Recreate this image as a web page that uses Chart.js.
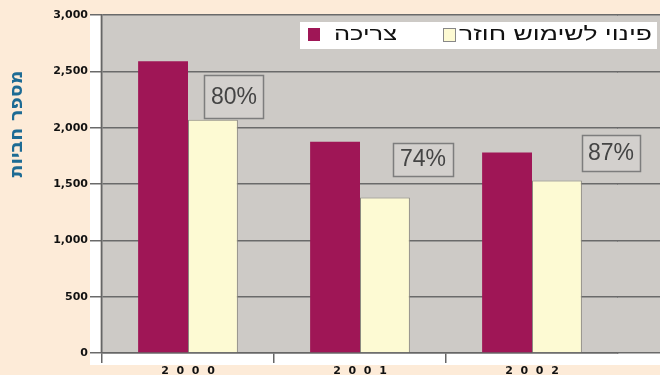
<!DOCTYPE html>
<html>
<head>
<meta charset="utf-8">
<script src="https://cdn.jsdelivr.net/npm/chart.js@4/dist/chart.umd.min.js"></script>
<style>
  html, body { margin: 0; padding: 0; background: #fdebd8; }
  #wrap { width: 660px; height: 375px; }
</style>
</head>
<body>
<div id="wrap"><canvas id="myChart" width="660" height="375"></canvas></div>
<script>
var years = ["2000", "2001", "2002"];
var consumption = [2590, 1875, 1780];
var recycled = [2070, 1380, 1530];
var percents = ["80%", "74%", "87%"];
var seriesNames = ["צריכה", "פינוי לשימוש חוזר"];
var axisTitle = "מספר חביות";

var COLORS = {
  page: '#fdebd8',
  plot: '#cdcac6',
  grid: '#6a6a6a',
  maroon: '#9f1656',
  cream: '#fdfad3',
  title: '#1d6b94'
};

// where each percent box sits relative to the top of its cream bar
var boxOffsets = [
  { dx: 21, dy: -2, w: 59, h: 43 },
  { dx: 38, dy: -22, w: 60, h: 33 },
  { dx: 54, dy: -10, w: 58, h: 36 }
];

Chart.defaults.font.family = "'DejaVu Sans', sans-serif";

// draw rtl text stretched to a given width, right edge at x
function fitText(ctx, text, xRight, y, width) {
  var w = ctx.measureText(text).width;
  ctx.save();
  ctx.translate(xRight, y);
  ctx.scale(width / w, 1);
  ctx.fillText(text, 0, 0);
  ctx.restore();
}

// same pixel snapping chart.js uses for grid lines
function snap(px, lw) {
  return Math.round(px - lw / 2) + lw / 2;
}

var decor = {
  id: 'decor',
  beforeDraw: function (chart) {
    var ctx = chart.ctx, ca = chart.chartArea;
    ctx.save();
    ctx.fillStyle = COLORS.page;
    ctx.fillRect(0, 0, chart.width, chart.height);
    ctx.fillStyle = '#ffffff';
    ctx.fillRect(ca.left - 12, ca.top - 1, chart.width, ca.bottom - ca.top + 13);
    ctx.fillStyle = COLORS.plot;
    ctx.fillRect(ca.left - 2, ca.top - 1, chart.width, ca.bottom - ca.top + 1);
    ctx.restore();
  },
  beforeDatasetsDraw: function (chart) {
    var ctx = chart.ctx, ca = chart.chartArea, y = chart.scales.y;
    ctx.save();
    ctx.strokeStyle = COLORS.grid;
    ctx.lineWidth = 1.5;
    y.ticks.forEach(function (t) {
      var py = snap(y.getPixelForValue(t.value), 1.5);
      ctx.beginPath();
      ctx.moveTo(ca.right - 1, py);
      ctx.lineTo(chart.width, py);
      ctx.stroke();
    });
    ctx.restore();
  },
  afterDatasetsDraw: function (chart) {
    var ctx = chart.ctx;
    var bars = chart.getDatasetMeta(1).data;
    ctx.save();
    bars.forEach(function (bar, i) {
      var o = boxOffsets[i];
      var cx = bar.x + o.dx;
      var bottom = bar.y + o.dy;
      var x0 = Math.round(cx - o.w / 2) + 0.5, y0 = Math.round(bottom - o.h) + 0.5;
      ctx.fillStyle = '#d3d0cd';
      ctx.fillRect(x0, y0, o.w, o.h);
      ctx.strokeStyle = '#7d7d7d';
      ctx.lineWidth = 1.5;
      ctx.strokeRect(x0, y0, o.w, o.h);
      ctx.fillStyle = '#444';
      ctx.font = "23px 'Liberation Sans', Arial, sans-serif";
      ctx.textAlign = 'center';
      ctx.textBaseline = 'middle';
      ctx.fillText(percents[i], cx, bottom - o.h / 2 + 1);
    });
    ctx.restore();
  },
  afterDraw: function (chart) {
    var ctx = chart.ctx;
    ctx.save();
    // legend box
    ctx.fillStyle = '#ffffff';
    ctx.fillRect(300, 22, 357, 27);
    ctx.font = "19px 'Liberation Sans', Arial, sans-serif";
    ctx.textBaseline = 'middle';
    ctx.textAlign = 'right';
    ctx.direction = 'rtl';
    ctx.fillStyle = '#111';
    fitText(ctx, seriesNames[1], 652, 35, 193);
    fitText(ctx, seriesNames[0], 397, 35, 63);
    ctx.fillStyle = COLORS.cream;
    ctx.fillRect(443, 28, 12, 13);
    ctx.strokeStyle = '#888';
    ctx.lineWidth = 1;
    ctx.strokeRect(443.5, 28.5, 12, 13);
    ctx.fillStyle = COLORS.maroon;
    ctx.fillRect(308, 28, 12, 13);
    // y axis title
    ctx.translate(17, 124);
    ctx.rotate(-Math.PI / 2);
    ctx.textAlign = 'center';
    ctx.fillStyle = COLORS.title;
    ctx.font = "bold 19px 'DejaVu Sans', sans-serif";
    ctx.fillText(axisTitle, 0, 0);
    ctx.restore();
  }
};

new Chart("myChart", {
  type: "bar",
  data: {
    labels: years,
    datasets: [{
      label: seriesNames[0],
      data: consumption,
      backgroundColor: COLORS.maroon,
      borderWidth: 0
    }, {
      label: seriesNames[1],
      data: recycled,
      backgroundColor: COLORS.cream,
      borderColor: '#8c8a80',
      borderWidth: 1
    }]
  },
  options: {
    responsive: false,
    animation: false,
    layout: { padding: { left: 0, top: 15, right: 42, bottom: 0 } },
    datasets: { bar: { categoryPercentage: 0.58, barPercentage: 1.0 } },
    plugins: {
      legend: { display: false },
      tooltip: { enabled: false }
    },
    scales: {
      x: {
        afterFit: function (s) { s.height = 22; },
        grid: {
          offset: true,
          drawOnChartArea: false,
          tickLength: 10,
          lineWidth: 1.5,
          color: function (c) { return c.type === 'tick' ? '#666' : 'rgba(0,0,0,0)'; }
        },
        border: { color: '#666', width: 1.5 },
        ticks: {
          padding: 2,
          color: '#111',
          font: { size: 11, weight: 'bold' },
          callback: function (v) { return years[v].split('').join('  '); }
        }
      },
      y: {
        min: 0,
        max: 3000,
        afterFit: function (s) { s.width = 102; },
        grid: { color: COLORS.grid, lineWidth: 1.5, tickLength: 12 },
        border: { color: '#666', width: 1.5 },
        ticks: {
          stepSize: 500,
          padding: 2,
          color: '#111',
          font: { size: 11, weight: 'bold' }
        }
      }
    }
  },
  plugins: [decor]
});
</script>
</body>
</html>
